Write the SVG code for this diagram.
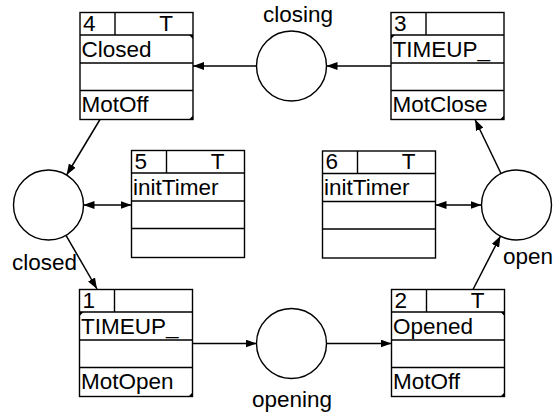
<svg xmlns="http://www.w3.org/2000/svg" width="557" height="416" viewBox="0 0 557 416">
<style>
.box{fill:#fff;stroke:#000;stroke-width:1.4}
.ln{stroke:#000;stroke-width:1.4;fill:none}
.tri{fill:#000}
.t{font-family:"Liberation Sans",Arial,sans-serif;font-size:22.5px;fill:#000}
.pl{fill:#fff;stroke:#000;stroke-width:1.4}
.cn{stroke:#000;stroke-width:1.5;fill:none;marker-end:url(#ah)}
.dbl{marker-start:url(#ah)}
</style>
<defs>
<marker id="ah" markerUnits="userSpaceOnUse" markerWidth="11" markerHeight="8" refX="11" refY="4" orient="auto-start-reverse"><path d="M0,0 L11,4 L0,8 z" fill="#000"/></marker>
</defs>
<g id="connectors">
<line class="cn" x1="391" y1="66" x2="326.5" y2="66"/>
<line class="cn" x1="256.5" y1="66" x2="193" y2="66"/>
<line class="cn" x1="100" y1="119.5" x2="66.6" y2="175"/>
<line class="cn" x1="66" y1="235.3" x2="97" y2="289"/>
<line class="cn dbl" x1="83.5" y1="205" x2="131.5" y2="205"/>
<line class="cn dbl" x1="435.5" y1="205" x2="481.5" y2="205"/>
<line class="cn" x1="192.5" y1="343.5" x2="256.5" y2="343.5"/>
<line class="cn" x1="326.5" y1="343.5" x2="391.5" y2="343.5"/>
<line class="cn" x1="473" y1="289.5" x2="500.5" y2="236"/>
<line class="cn" x1="501" y1="173.5" x2="475" y2="119.5"/>
</g>
<g id="p-closed"><circle class="pl" cx="48.5" cy="205" r="35"/><text class="t" x="12" y="270">closed</text></g>
<g id="p-open"><circle class="pl" cx="516.5" cy="205" r="35"/><text class="t" x="503" y="264">open</text></g>
<g id="p-closing"><circle class="pl" cx="291.5" cy="66" r="35"/><text class="t" x="298" y="22" text-anchor="middle">closing</text></g>
<g id="p-opening"><circle class="pl" cx="291.5" cy="343.5" r="35"/><text class="t" x="292" y="407" text-anchor="middle">opening</text></g>

<g id="t4" transform="translate(80,12.5)">
<rect class="box" x="0" y="0" width="113" height="107"/>
<path class="ln" d="M35,0V22.5M0,22.5H113M0,50.5H113M0,78H113"/>
<path class="tri" d="M109,22.5H113V26.5z M113,107V103L109,107z"/>
<text class="t" x="3" y="18">4</text><text class="t" x="86" y="18" text-anchor="middle">T</text>
<text class="t" x="1.5" y="44">Closed</text><text class="t" x="1.5" y="99.5">MotOff</text>
</g>
<g id="t3" transform="translate(391,12.5)">
<rect class="box" x="0" y="0" width="113" height="107"/>
<path class="ln" d="M35,0V22.5M0,22.5H113M0,50.5H113M0,78H113"/>
<path class="tri" d="M0,22.5H4L0,26.5z M113,107V103L109,107z"/>
<text class="t" x="3" y="18">3</text>
<text class="t" x="1.5" y="44">TIMEUP_</text><text class="t" x="1.5" y="99.5">MotClose</text>
</g>
<g id="t5" transform="translate(131.5,150.5)">
<rect class="box" x="0" y="0" width="113" height="107"/>
<path class="ln" d="M35,0V22.5M0,22.5H113M0,50.5H113M0,78H113"/>
<text class="t" x="3" y="18">5</text><text class="t" x="86" y="18" text-anchor="middle">T</text>
<text class="t" x="1.5" y="44">initTimer</text>
</g>
<g id="t6" transform="translate(322.5,151)">
<rect class="box" x="0" y="0" width="113" height="107"/>
<path class="ln" d="M35,0V22.5M0,22.5H113M0,50.5H113M0,78H113"/>
<text class="t" x="3" y="18">6</text><text class="t" x="86" y="18" text-anchor="middle">T</text>
<text class="t" x="1.5" y="44">initTimer</text>
</g>
<g id="t1" transform="translate(79.5,289.5)">
<rect class="box" x="0" y="0" width="113" height="107"/>
<path class="ln" d="M35,0V22.5M0,22.5H113M0,50.5H113M0,78H113"/>
<path class="tri" d="M0,22.5H4L0,26.5z M113,107V103L109,107z"/>
<text class="t" x="3" y="18">1</text>
<text class="t" x="1.5" y="44">TIMEUP_</text><text class="t" x="1.5" y="99.5">MotOpen</text>
</g>
<g id="t2" transform="translate(391.5,289.5)">
<rect class="box" x="0" y="0" width="113" height="107"/>
<path class="ln" d="M35,0V22.5M0,22.5H113M0,50.5H113M0,78H113"/>
<path class="tri" d="M109,22.5H113V26.5z M113,107V103L109,107z"/>
<text class="t" x="3" y="18">2</text><text class="t" x="86" y="18" text-anchor="middle">T</text>
<text class="t" x="1.5" y="44">Opened</text><text class="t" x="1.5" y="99.5">MotOff</text>
</g>
</svg>
